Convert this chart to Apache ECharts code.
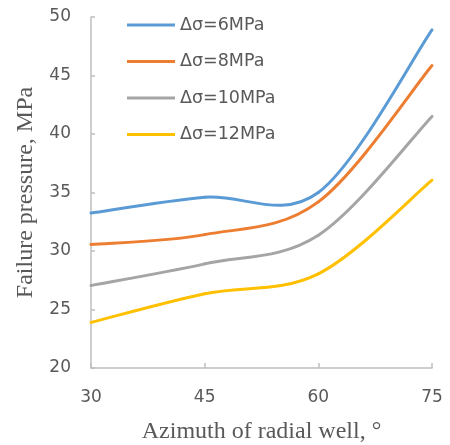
<!DOCTYPE html>
<html>
<head>
<meta charset="utf-8">
<script src="https://cdn.jsdelivr.net/npm/echarts@6/dist/echarts.min.js"></script>
<style>
  html, body { margin: 0; padding: 0; background: #fff; }
  #chart { width: 450px; height: 445px; }
</style>
</head>
<body>
<div id="chart"></div>
<script>
// Azimuth of the radial well (degrees)
const azimuth = [30, 45, 60, 75];
// Failure pressure (MPa) for each horizontal stress difference
const press6 = [33.25, 34.6, 35.0, 48.9];
const press8 = [30.55, 31.4, 34.2, 45.85];
const press10 = [27.05, 28.9, 31.35, 41.5];
const press12 = [23.9, 26.35, 28.05, 36.05];
const seriesNames = ['Δσ=6MPa', 'Δσ=8MPa', 'Δσ=10MPa', 'Δσ=12MPa'];
const seriesColors = ['#5B9BD5', '#ED7D31', '#A5A5A5', '#FFC000'];
const seriesValues = [press6, press8, press10, press12];

const chart = echarts.init(document.getElementById('chart'), null, { renderer: 'canvas' });

// Smooth curve: each data item draws the cubic Bezier segment from its point
// to the next one, with Catmull-Rom style control points (tangent = (next - prev) / 6).
function makeRenderItem(vals) {
  return function (params, api) {
    const i = params.dataIndex;
    const n = azimuth.length;
    if (i >= n - 1) return null;
    const pt = k => {
      const c = Math.max(0, Math.min(n - 1, k));
      return api.coord([azimuth[c], vals[c]]);
    };
    const p0 = pt(i - 1), p1 = pt(i), p2 = pt(i + 1), p3 = pt(i + 2);
    const c1 = [p1[0] + (p2[0] - p0[0]) / 6, p1[1] + (p2[1] - p0[1]) / 6];
    const c2 = [p2[0] - (p3[0] - p1[0]) / 6, p2[1] - (p3[1] - p1[1]) / 6];
    return {
      type: 'bezierCurve',
      shape: { x1: p1[0], y1: p1[1], cpx1: c1[0], cpy1: c1[1], cpx2: c2[0], cpy2: c2[1], x2: p2[0], y2: p2[1] },
      style: { stroke: api.visual('color'), lineWidth: 3, fill: null, lineCap: 'round' }
    };
  };
}

const series = seriesValues.map((vals, i) => ({
  name: seriesNames[i],
  type: 'custom',
  renderItem: makeRenderItem(vals),
  clip: false,
  data: azimuth.map((x, j) => [x, vals[j]]),
  encode: { x: 0, y: 1 },
  itemStyle: { color: seriesColors[i] }
}));

chart.setOption({
  animation: false,
  grid: { left: 91, right: 18, top: 17, bottom: 77, outerBoundsMode: 'none', containLabel: false },
  legend: {
    orient: 'vertical',
    left: 127,
    top: 15,
    padding: 0,
    itemWidth: 48,
    itemHeight: 3,
    itemGap: 16.5,
    textStyle: { fontFamily: 'DejaVu Sans', fontSize: 17.5, color: '#595959', lineHeight: 20 },
    data: seriesNames.map((name, i) => ({ name: name, icon: 'rect', itemStyle: { color: seriesColors[i] } }))
  },
  xAxis: {
    type: 'value',
    min: 30, max: 75, interval: 15,
    name: 'Azimuth of radial well, °',
    nameLocation: 'middle',
    nameGap: 52,
    nameTextStyle: { fontFamily: 'Liberation Serif', fontSize: 24, color: '#595959' },
    axisLine: { show: true, lineStyle: { color: '#BFBFBF', width: 1.5 } },
    axisTick: { show: true, inside: true, length: 5, lineStyle: { color: '#BFBFBF', width: 1.5 } },
    axisLabel: { fontFamily: 'DejaVu Sans', fontSize: 17, color: '#595959', margin: 21 },
    splitLine: { show: false }
  },
  yAxis: {
    type: 'value',
    min: 20, max: 50, interval: 5,
    name: 'Failure pressure, MPa',
    nameLocation: 'middle',
    nameGap: 53,
    nameTextStyle: { fontFamily: 'Liberation Serif', fontSize: 24, color: '#595959' },
    axisLine: { show: true, lineStyle: { color: '#BFBFBF', width: 1.5 } },
    axisTick: { show: true, inside: true, length: 4, lineStyle: { color: '#BFBFBF', width: 1.5 } },
    axisLabel: { fontFamily: 'DejaVu Sans', fontSize: 17, color: '#595959', margin: 20 },
    splitLine: { show: false }
  },
  series: series
});
</script>
</body>
</html>
